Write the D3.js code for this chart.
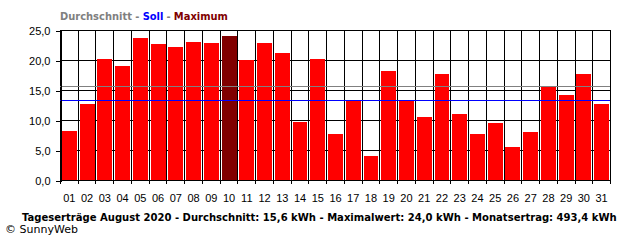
<!DOCTYPE html>
<html>
<head>
<meta http-equiv="Content-Type" content="text/html; charset=utf-8" />
<script src="https://cdn.jsdelivr.net/npm/d3@7"></script>
<title>Tageserträge</title>
<style>
  body { margin: 0; background: #fff; }
  text { font-family: "Liberation Sans", Arial, sans-serif; }
</style>
</head>
<body>
<svg width="640" height="240" id="mainsvg"></svg>
<script>
  // daily yield, August 2020 (kWh)
  const days = ['01','02','03','04','05','06','07','08','09','10','11','12','13','14','15','16',
                '17','18','19','20','21','22','23','24','25','26','27','28','29','30','31'];
  const yields = [8.2, 12.7, 20.2, 19.0, 23.7, 22.7, 22.2, 23.0, 22.8, 24.0, 20.0, 22.8, 21.2, 9.7, 20.2, 7.7,
                  13.3, 4.0, 18.2, 13.2, 10.5, 17.7, 11.0, 7.7, 9.5, 5.5, 8.0, 15.7, 14.2, 17.7, 12.7];
  const avgValue = 15.6;
  const sollValue = 13.2;
  const yTicks = [0, 5, 10, 15, 20, 25];
  const legendParts = [
    {t: 'Durchschnitt -', c: '#808080'},
    {t: 'Soll', c: '#0000ff'}, {t: '-', c: '#808080'},
    {t: 'Maximum', c: '#800000'}];
  const title = 'Tageserträge August 2020 - Durchschnitt: 15,6 kWh - Maximalwert: 24,0 kWh - Monatsertrag: 493,4 kWh';

  let svg = d3.select('#mainsvg');
  const mLeft = 60, mRight = 610, mTop = 30, mBottom = 180;
  const boldFont = '"DejaVu Sans", Verdana, sans-serif';

  const slot = d3.scaleBand().domain(days).range([mLeft, mRight]).padding(0);
  const xb = d3.scaleBand().domain(days).range([mLeft, mRight]).paddingInner(0.16).paddingOuter(0.08);
  const y = d3.scaleLinear().domain([0, 25]).range([mBottom, mTop]);
  const fmt = v => d3.format('.1f')(v).replace('.', ',');
  const maxV = d3.max(yields);

  // grid (under the bars)
  const g = svg.append('g').attr('shape-rendering', 'crispEdges');
  g.selectAll('.hgrid').data(yTicks.slice(1)).join('line')
    .attr('x1', mLeft).attr('x2', mRight)
    .attr('y1', d => y(d) + 0.5).attr('y2', d => y(d) + 0.5)
    .attr('stroke', '#000');
  const bounds = days.map(d => slot(d)).concat([mRight]);
  g.selectAll('.vgrid').data(bounds).join('line')
    .attr('x1', d => Math.round(d) + 0.5).attr('x2', d => Math.round(d) + 0.5)
    .attr('y1', mTop).attr('y2', mBottom + 4)
    .attr('stroke', '#000');

  // bars
  svg.append('g').attr('shape-rendering', 'crispEdges')
    .selectAll('rect').data(yields).join('rect')
    .attr('x', (d, i) => xb(days[i]) + 0.5)
    .attr('width', xb.bandwidth())
    .attr('y', d => y(d))
    .attr('height', d => y(0) - y(d))
    .attr('fill', d => d === maxV ? '#800000' : '#ff0000');

  // average and target lines (over the bars)
  svg.append('line').attr('shape-rendering', 'crispEdges')
    .attr('x1', mLeft).attr('x2', mRight).attr('y1', y(avgValue)).attr('y2', y(avgValue))
    .attr('stroke', '#808080');
  svg.append('line').attr('shape-rendering', 'crispEdges')
    .attr('x1', mLeft).attr('x2', mRight).attr('y1', y(sollValue)).attr('y2', y(sollValue))
    .attr('stroke', '#0000ff');

  // y axis
  const yAxis = svg.append('g').attr('transform', `translate(${mLeft + 0.5},0.5)`)
    .call(d3.axisLeft(y).tickValues(yTicks).tickFormat(fmt).tickSize(5).tickPadding(5));
  yAxis.select('.domain').attr('stroke', '#000').attr('shape-rendering', 'crispEdges');
  yAxis.selectAll('.tick line').attr('stroke', '#000').attr('shape-rendering', 'crispEdges');
  yAxis.selectAll('.tick text').attr('font-size', 11).attr('font-family', '"Liberation Sans", Arial, sans-serif').attr('fill', '#000');

  // x axis line and labels
  svg.append('line').attr('shape-rendering', 'crispEdges')
    .attr('x1', mLeft).attr('x2', mRight + 1).attr('y1', mBottom + 0.5).attr('y2', mBottom + 0.5).attr('stroke', '#000');
  svg.selectAll('.xlab').data(days).join('text')
    .attr('x', d => slot(d) + slot.bandwidth() / 2 + 0.5)
    .attr('y', 202)
    .attr('text-anchor', 'middle')
    .attr('font-size', 11)
    .text(d => d);

  // legend: separate words placed one after another, squeezed to the reference width
  const legG = svg.append('g');
  let cx = 0;
  const gap = 3.5;
  legendParts.forEach(p => {
    const t = legG.append('text').attr('x', cx).attr('y', 0)
      .attr('font-size', 11).attr('font-weight', 'bold')
      .style('font-family', boldFont)
      .attr('fill', p.c).text(p.t);
    cx += t.node().getComputedTextLength() + gap;
  });
  const legW = cx - gap;
  legG.attr('transform', `translate(${mLeft},20) scale(${168 / legW},1)`);

  // title, squeezed horizontally to the reference width
  const tt = svg.append('text').attr('x', 0).attr('y', 0)
    .attr('font-size', 11).attr('font-weight', 'bold')
    .style('font-family', boldFont)
    .text(title);
  const tw = tt.node().getComputedTextLength();
  tt.attr('transform', `translate(22,221) scale(${596 / tw},1)`);

  svg.append('text').attr('x', 5).attr('y', 233)
    .attr('font-size', 11)
    .style('font-family', boldFont)
    .text('© SunnyWeb');
</script>
</body>
</html>
